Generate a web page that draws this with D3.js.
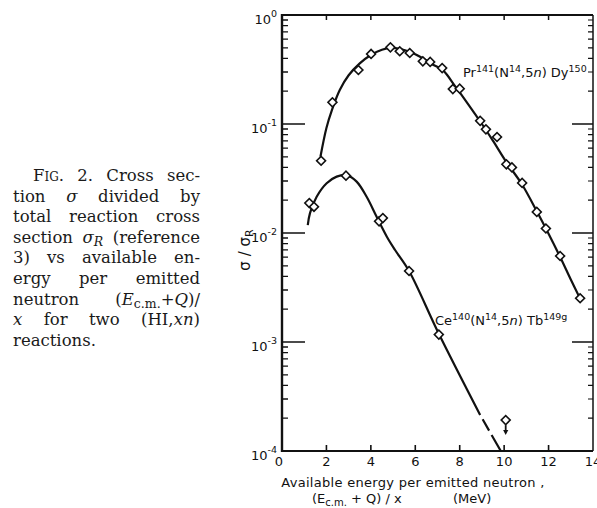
<!DOCTYPE html>
<html>
<head>
<meta charset="utf-8">
<script src="https://cdn.jsdelivr.net/npm/d3@7"></script>
<style>
  body { margin: 0; background: #fff; }
  #caption {
    position: absolute; left: 13px; top: 166px; width: 187px;
    font-family: "DejaVu Serif", serif; font-size: 16.5px; line-height: 20.6px; color: #1a1a1a;
  }
  #caption div { text-align: justify; text-align-last: justify; height: 20.6px; }
  #caption div.last { text-align-last: left; }
  #caption sub { font-size: 12.5px; line-height: 0; vertical-align: -3px; }
  svg { position: absolute; left: 0; top: 0; }
  svg text { font-family: "DejaVu Sans", sans-serif; fill: #111; }
</style>
</head>
<body>
<div id="caption"></div>
<svg id="chart" width="597" height="508"></svg>
<svg id="ticks" width="597" height="508"></svg>
<script>
// measured points, Pr141(N14,5n)Dy150
const prEnergy = [1.76, 2.27, 3.44, 4.01, 4.88, 5.30, 5.75, 6.34, 6.67, 7.21, 7.69, 8.00,
  8.92, 9.18, 9.68, 10.10, 10.35, 10.81, 11.47, 11.88, 12.52, 13.42];
const prRatio = [0.046, 0.158, 0.313, 0.439, 0.505, 0.465, 0.448, 0.376, 0.371, 0.326, 0.209, 0.211,
  0.107, 0.0894, 0.076, 0.0427, 0.040, 0.0288, 0.0156, 0.011, 0.00615, 0.00252];

// fitted curve through Pr points
const prCurveEnergy = [1.73, 2.0, 2.25, 2.6, 3.0, 3.5, 4.0, 4.5, 4.9, 5.3, 5.8, 6.3, 6.8, 7.25,
  7.8, 8.4, 9.0, 9.5, 10.1, 10.8, 11.5, 12.0, 12.5, 13.0, 13.42];
const prCurveRatio = [0.050, 0.092, 0.135, 0.205, 0.28, 0.36, 0.43, 0.48, 0.50, 0.49, 0.455, 0.405, 0.35, 0.31,
  0.221, 0.150, 0.100, 0.070, 0.0447, 0.028, 0.0154, 0.00984, 0.00614, 0.00374, 0.0025];

// measured points, Ce140(N14,5n)Tb149g
const ceEnergy = [1.23, 1.44, 2.88, 4.37, 4.54, 5.72, 7.06];
const ceRatio = [0.0188, 0.0174, 0.0336, 0.0128, 0.0137, 0.00448, 0.00117];

// upper limit point (arrow)
const ceLimitEnergy = [10.07];
const ceLimitRatio = [0.000192];

const ceCurveEnergy = [1.16, 1.26, 1.56, 2.01, 2.46, 2.91, 3.36, 3.81, 4.26, 4.72, 5.09, 5.72, 7.06, 8.92];
const ceCurveRatio = [0.0118, 0.0152, 0.0215, 0.0286, 0.0329, 0.034, 0.0296, 0.0215, 0.0141, 0.00925,
  0.00698, 0.00448, 0.00119, 0.000214];
// extrapolated, dashed
const ceDashEnergy = [8.92, 9.85];
const ceDashRatio = [0.000214, 0.0001];

const xTicks = [0, 2, 4, 6, 8, 10, 12, 14];
const decades = [1, 1e-1, 1e-2, 1e-3, 1e-4];
const decadeExp = ["0", "-1", "-2", "-3", "-4"];

const captionLines = [
  '<span style="padding-left:20px"></span><span style="font-variant:small-caps">Fig.</span> 2. Cross sec-',
  'tion <i>σ</i> divided by',
  'total reaction cross',
  'section <i>σ<sub>R</sub></i> (reference',
  '3) vs available en-',
  'ergy per emitted',
  'neutron (<i>E</i><sub>c.m.</sub>+<i>Q</i>)/',
  '<i>x</i> for two (HI,<i>xn</i>)',
  'reactions.'
];

d3.select("#caption").selectAll("div")
  .data(captionLines)
  .join("div")
  .attr("class", (d, i) => i === captionLines.length - 1 ? "last" : null)
  .html(d => d);

const svg = d3.select("#chart");

const x = d3.scaleLinear().domain([0, 14]).range([282, 593]);
const y = d3.scaleLog().domain([1e-4, 1]).range([451, 15]);

const minors = [];
decades.slice(1).forEach(dv => {
  for (let k = 2; k <= 9; k++) minors.push(dv * k);
});
const majorX = xTicks.slice(1, -1);
const majorY = decades.slice(1, -1);

// frame
const frame = svg.append("g").attr("stroke", "#111").attr("fill", "none");
frame.append("line").attr("x1", x(0)).attr("x2", x(0)).attr("y1", y(1) - 1).attr("y2", y(1e-4) + 1).attr("stroke-width", 2.4);
frame.append("line").attr("x1", x(0)).attr("x2", x(14)).attr("y1", y(1e-4)).attr("y2", y(1e-4)).attr("stroke-width", 2.2);
frame.append("line").attr("x1", x(0)).attr("x2", x(14)).attr("y1", y(1)).attr("y2", y(1)).attr("stroke-width", 2);
frame.append("line").attr("x1", x(14)).attr("x2", x(14)).attr("y1", y(1)).attr("y2", y(1e-4)).attr("stroke-width", 1.5);

// x tick labels
svg.append("g").selectAll("text")
  .data(xTicks)
  .join("text")
  .attr("x", d => x(d) + (d === 0 ? -3 : 0))
  .attr("y", y(1e-4) + 15)
  .attr("text-anchor", "middle")
  .attr("font-size", 13)
  .text(d => d);

// y tick labels 10^n
const yl = svg.append("g").selectAll("text")
  .data(decades)
  .join("text")
  .attr("x", 277)
  .attr("y", d => y(d) + 9)
  .attr("text-anchor", "end")
  .attr("font-size", 13);
yl.append("tspan").text("10");
yl.append("tspan").attr("dy", -7).attr("font-size", 9.5).text((d, i) => decadeExp[i]);

// curves
const lineGen = d3.line().x(d => x(d[0])).y(d => y(d[1])).curve(d3.curveCatmullRom);
const curves = svg.append("g").attr("fill", "none").attr("stroke", "#111").attr("stroke-width", 2.2);
curves.append("path").attr("d", lineGen(d3.zip(prCurveEnergy, prCurveRatio)));
curves.append("path").attr("d", lineGen(d3.zip(ceCurveEnergy, ceCurveRatio)));
curves.append("path").attr("d", lineGen(d3.zip(ceDashEnergy, ceDashRatio)))
  .attr("stroke-dasharray", "0,5,13,5,20");

// points
const diamond = d3.symbol().type(d3.symbolSquare).size(40);
const pts = d3.zip(prEnergy, prRatio).concat(d3.zip(ceEnergy, ceRatio), d3.zip(ceLimitEnergy, ceLimitRatio));
svg.append("g").selectAll("path")
  .data(pts)
  .join("path")
  .attr("d", diamond)
  .attr("transform", d => `translate(${x(d[0])},${y(d[1])}) rotate(45)`)
  .attr("fill", "#fff")
  .attr("stroke", "#111")
  .attr("stroke-width", 1.6);

// arrow for upper limit
const lim = svg.append("g").selectAll("g")
  .data(d3.zip(ceLimitEnergy, ceLimitRatio))
  .join("g")
  .attr("transform", d => `translate(${x(d[0])},${y(d[1])})`);
lim.append("line").attr("y1", 5).attr("y2", 11).attr("stroke", "#111").attr("stroke-width", 1.8);
lim.append("path").attr("d", "M-2.6,10L2.6,10L0,15Z").attr("fill", "#111");

// s: 0 normal, 1 superscript, 2 italic
function addPart(sel, t, s, prev) {
  const up = s === 1, wasUp = prev === 1;
  sel.append("tspan")
    .attr("dy", up && !wasUp ? -5 : (!up && wasUp ? 5 : 0))
    .attr("font-size", up ? 9.5 : 13)
    .attr("font-style", s === 2 ? "italic" : null)
    .text(t);
}

// reaction labels
const prLabel = svg.append("text").attr("x", 463).attr("y", 77).attr("font-size", 13);
[["Pr", 0], ["141", 1], ["(N", 0], ["14", 1], [",5", 0], ["n", 2], [") Dy", 0], ["150", 1]]
  .forEach(([t, s], i, arr) => addPart(prLabel, t, s, i > 0 ? arr[i - 1][1] : 0));

const ceLabel = svg.append("text").attr("x", 435).attr("y", 325).attr("font-size", 13);
[["Ce", 0], ["140", 1], ["(N", 0], ["14", 1], [",5", 0], ["n", 2], [") Tb", 0], ["149g", 1]]
  .forEach(([t, s], i, arr) => addPart(ceLabel, t, s, i > 0 ? arr[i - 1][1] : 0));

// axis titles
svg.append("text")
  .attr("transform", "translate(250,250) rotate(-90)")
  .attr("text-anchor", "middle")
  .attr("font-size", 15)
  .call(t => {
    t.append("tspan").text("σ / σ");
    t.append("tspan").attr("dy", 3).attr("font-size", 11).text("R");
  });

svg.append("text")
  .attr("x", 413).attr("y", 487)
  .attr("text-anchor", "middle")
  .attr("font-size", 13)
  .attr("letter-spacing", 0.3)
  .text("Available energy per emitted neutron ,");

svg.append("text")
  .attr("x", 312).attr("y", 503)
  .attr("font-size", 13)
  .call(t => {
    t.append("tspan").text("(E");
    t.append("tspan").attr("dy", 3).attr("font-size", 10).text("c.m.");
    t.append("tspan").attr("dy", -3).text(" + Q) / x");
    t.append("tspan").attr("x", 453).text("(MeV)");
  });

// tick marks on their own overlay svg, all pointing inward
const tsvg = d3.select("#ticks");
function tickPath(vals, seg) {
  const p = d3.path();
  vals.forEach(d => {
    const c = seg(d);
    p.moveTo(c[0], c[1]);
    p.lineTo(c[2], c[3]);
  });
  return p.toString();
}
const tickSets = [
  [majorX, d => [x(d), y(1e-4), x(d), y(1e-4) - 6], 1.6],
  [majorX, d => [x(d), y(1), x(d), y(1) + 5], 1.5],
  [majorY, d => [x(0), y(d), x(0) + 23, y(d)], 1.7],
  [minors, d => [x(0), y(d), x(0) + 6, y(d)], 1.3],
  [majorY, d => [x(14), y(d), x(14) - 21, y(d)], 1.6],
  [minors, d => [x(14), y(d), x(14) - 5, y(d)], 1.2]
];
tsvg.append("g").attr("stroke", "#111").attr("fill", "none")
  .selectAll("path")
  .data(tickSets)
  .join("path")
  .attr("d", d => tickPath(d[0], d[1]))
  .attr("stroke-width", d => d[2]);
</script>
</body>
</html>
